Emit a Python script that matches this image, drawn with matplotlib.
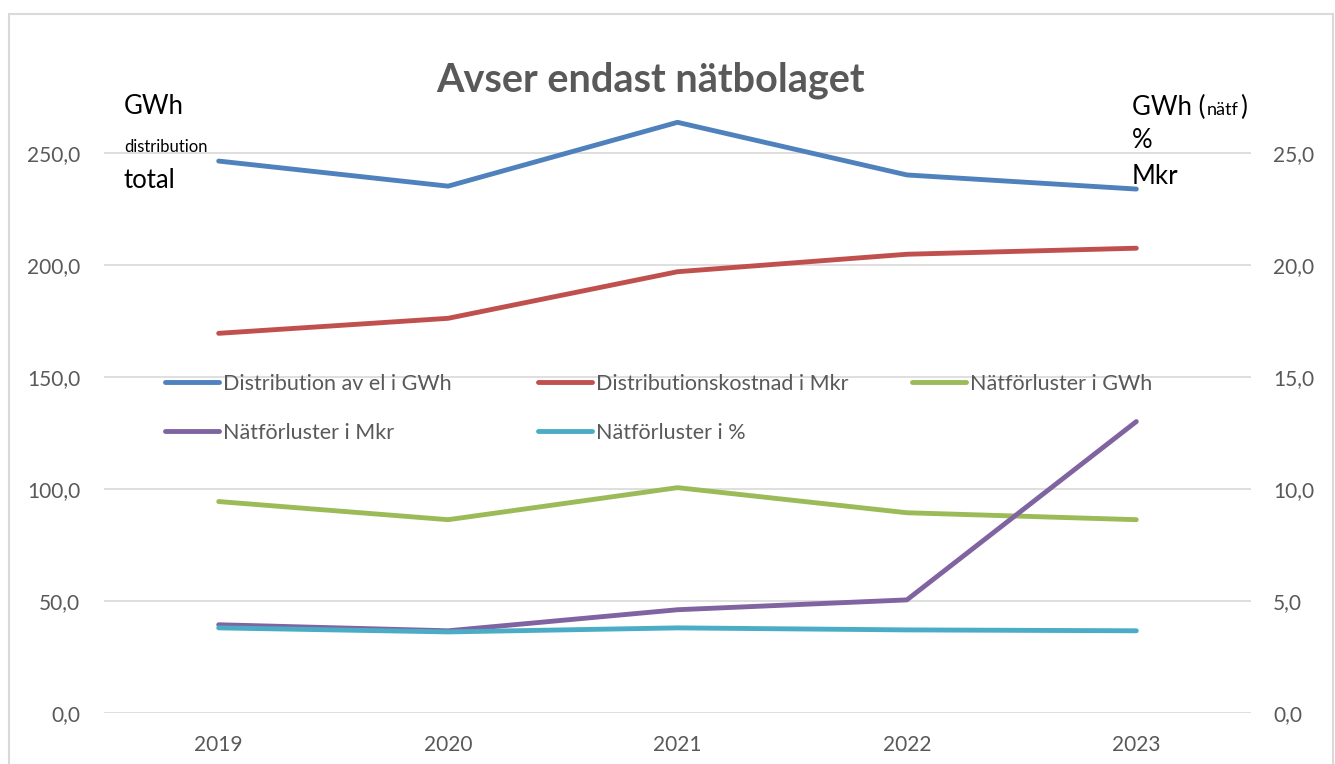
import matplotlib
matplotlib.use("Agg")
import matplotlib.pyplot as plt
from matplotlib.patches import Rectangle

plt.rcParams['font.family'] = ['Lato', 'DejaVu Sans']

# data
years = ['2019', '2020', '2021', '2022', '2023']
distribution_gwh = [246.4, 235.2, 263.7, 240.2, 233.9]   # left axis
distkostnad_mkr = [169.5, 176.2, 197.0, 204.8, 207.5]    # left axis
forluster_gwh = [9.44, 8.63, 10.06, 8.94, 8.63]          # right axis
forluster_mkr = [3.94, 3.67, 4.61, 5.05, 13.01]          # right axis
forluster_pct = [3.80, 3.62, 3.80, 3.71, 3.67]           # right axis

left_ticks = [0, 50, 100, 150, 200, 250]
right_ticks = [0, 5, 10, 15, 20, 25]

W, H = 1335, 764
fig = plt.figure(figsize=(W / 100, H / 100), dpi=100)
fig.patch.set_facecolor('white')

# chart border
fig.patches.append(Rectangle((9 / W, -0.05), (1333 - 9) / W, 1.05 - 14 / H,
                             transform=fig.transFigure, fill=False,
                             edgecolor='#D9D9D9', lw=1.5))

ax = fig.add_axes([104 / W, 1 - 713 / H, (1251 - 104) / W, (713 - 41) / H])
ax2 = ax.twinx()

x = list(range(len(years)))
lw = 3.5
l1, = ax.plot(x, distribution_gwh, color='#4F81BD', lw=lw, solid_capstyle='round', label='Distribution av el i GWh')
l2, = ax.plot(x, distkostnad_mkr, color='#C0504D', lw=lw, solid_capstyle='round', label='Distributionskostnad i Mkr')
l3, = ax2.plot(x, forluster_gwh, color='#9BBB59', lw=lw, solid_capstyle='round', label='Nätförluster i GWh')
l4, = ax2.plot(x, forluster_mkr, color='#8064A2', lw=lw, solid_capstyle='round', label='Nätförluster i Mkr')
l5, = ax2.plot(x, forluster_pct, color='#4BACC6', lw=lw, solid_capstyle='round', label='Nätförluster i %')

ax.set_xlim(-0.5, len(years) - 0.5)
ax.set_ylim(0, 300)
ax2.set_ylim(0, 30)
ax.set_yticks(left_ticks)
ax.set_yticklabels([f'{v:.1f}'.replace('.', ',') for v in left_ticks])
ax2.set_yticks(right_ticks)
ax2.set_yticklabels([f'{v:.1f}'.replace('.', ',') for v in right_ticks])
ax.set_xticks(x)
ax.set_xticklabels(years)

for a in (ax, ax2):
    for s in a.spines.values():
        s.set_visible(False)
    a.tick_params(length=0, labelsize=15, labelcolor='#595959')
ax.tick_params(axis='y', pad=17)
ax2.tick_params(axis='y', pad=16)
ax.tick_params(axis='x', pad=16)
ax.grid(axis='y', color='#D9D9D9', lw=1.2)
ax.set_axisbelow(True)

# legend: one small legend per column so the columns sit on a fixed grid like Excel
legend_cols = [[l1, l4], [l2, l5], [l3]]
col_x = [165, 538, 912]
legs = []
for hs, cx in zip(legend_cols, col_x):
    leg = ax2.legend(handles=hs, loc='upper left', bbox_to_anchor=(cx / W, 1 - 374 / H),
                     bbox_transform=fig.transFigure, frameon=False, fontsize=15.5,
                     labelcolor='#595959', handlelength=2.5, handletextpad=0.2,
                     labelspacing=1.33, borderpad=0, borderaxespad=0)
    legs.append(leg)
for leg in legs[:-1]:
    ax2.add_artist(leg)

fig.text(651 / W, 1 - 80 / H, 'Avser endast nätbolaget', ha='center', va='center',
         fontsize=28.5, fontweight='bold', color='#595959')

# axis unit annotations
fig.text(124 / W, 1 - 107 / H, 'GWh', ha='left', va='center', fontsize=18.5, color='black')
fig.text(124 / W, 1 - 147 / H, 'distribution', ha='left', va='center', fontsize=12, color='black')
fig.text(124 / W, 1 - 180 / H, 'total', ha='left', va='center', fontsize=18.5, color='black')
t1 = fig.text(1132 / W, 1 - 107 / H, 'GWh (', ha='left', va='center', fontsize=18.5, color='black')
t2 = ax.annotate('nätf', xy=(1, 0), xycoords=t1, xytext=(1, 1), textcoords='offset points',
                 ha='left', va='bottom', fontsize=13, color='black', annotation_clip=False)
ax.annotate(')', xy=(1, 0), xycoords=t2, xytext=(1, -1), textcoords='offset points',
            ha='left', va='bottom', fontsize=18.5, color='black', annotation_clip=False)
fig.text(1132 / W, 1 - 141 / H, '%', ha='left', va='center', fontsize=18.5, color='black')
fig.text(1132 / W, 1 - 176 / H, 'Mkr', ha='left', va='center', fontsize=18.5, color='black')

fig.savefig('out.png', dpi=100)
